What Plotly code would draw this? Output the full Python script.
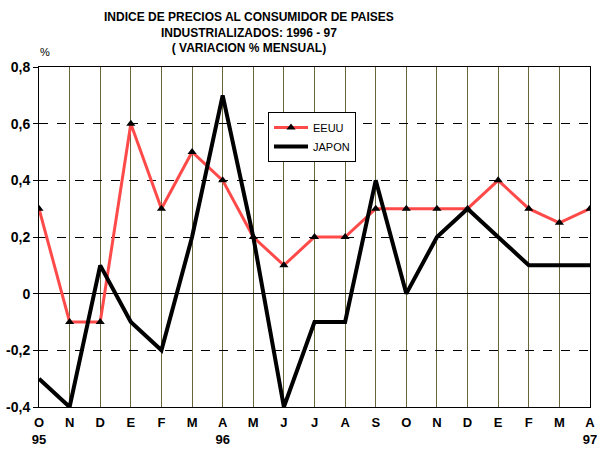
import plotly.graph_objects as go

months = ["O", "N", "D", "E", "F", "M", "A", "M", "J", "J", "A", "S", "O", "N", "D", "E", "F", "M", "A"]
years = {0: "95", 6: "96", 18: "97"}
eeuu = [0.3, -0.1, -0.1, 0.6, 0.3, 0.5, 0.4, 0.2, 0.1, 0.2, 0.2, 0.3, 0.3, 0.3, 0.3, 0.4, 0.3, 0.25, 0.3]
japon = [-0.3, -0.4, 0.1, -0.1, -0.2, 0.2, 0.7, 0.2, -0.4, -0.1, -0.1, 0.4, 0.0, 0.2, 0.3, 0.2, 0.1, 0.1, 0.1]
y_ticks = [0.8, 0.6, 0.4, 0.2, 0.0, -0.2, -0.4]
y_labels = ["0,8", "0,6", "0,4", "0,2", "0", "-0,2", "-0,4"]

x = list(range(len(months)))
x_labels = [m + ("<br>" + years[i] if i in years else "") for i, m in enumerate(months)]

fig = go.Figure()
fig.add_trace(go.Scatter(
    x=x, y=eeuu, name="EEUU", mode="lines+markers",
    line=dict(color="#ff4a4a", width=3),
    marker=dict(symbol="triangle-up", color="black", size=8),
))
fig.add_trace(go.Scatter(
    x=x, y=japon, name="JAPON", mode="lines",
    line=dict(color="black", width=4),
))

font = "Liberation Sans, Arial, sans-serif"
fig.update_layout(
    width=609, height=459,
    margin=dict(l=39, r=19, t=67, b=52, autoexpand=False),
    paper_bgcolor="white", plot_bgcolor="white",
    showlegend=True,
    legend=dict(
        x=(268 - 39) / 551, y=(407 - 112) / 340, xanchor="left", yanchor="top",
        bgcolor="white", bordercolor="black", borderwidth=1,
        font=dict(family=font, size=11, color="black"),
        itemwidth=34, tracegroupgap=2,
    ),
    font=dict(family=font, color="black"),
)
fig.update_xaxes(
    range=[0, 18], tickmode="array", tickvals=x, ticktext=["<b>" + t + "</b>" for t in x_labels],
    showgrid=True, gridcolor="#66663a", gridwidth=1,
    showline=True, linecolor="black", linewidth=1, mirror=True,
    ticks="outside", ticklen=3, tickcolor="rgba(0,0,0,0)",
    tickfont=dict(family=font, size=13, color="black"),
    zeroline=False, automargin=False,
)
fig.update_yaxes(
    range=[-0.4, 0.8], tickmode="array", tickvals=y_ticks, ticktext=["<b>" + t + "</b>" for t in y_labels],
    showgrid=True, gridcolor="black", gridwidth=1, griddash="dash",
    showline=True, linecolor="black", linewidth=1, mirror=True,
    ticks="outside", ticklen=5, tickcolor="black",
    zeroline=True, zerolinecolor="black", zerolinewidth=1,
    tickfont=dict(family=font, size=14, color="black"),
    automargin=False,
)
fig.add_annotation(
    text="<b>INDICE DE PRECIOS AL CONSUMIDOR DE PAISES<br>INDUSTRIALIZADOS: 1996 - 97<br>( VARIACION % MENSUAL)</b>",
    xref="paper", yref="paper", x=(249 - 39) / 551, y=1.0 + (67 - 8) / 340,
    xanchor="center", yanchor="top", showarrow=False,
    font=dict(family=font, size=12, color="black"), align="center",
)
fig.add_annotation(
    text="%", xref="paper", yref="paper", x=(45 - 39) / 551, y=1.0 + (67 - 52) / 340,
    xanchor="center", yanchor="middle", showarrow=False,
    font=dict(family=font, size=11, color="black"),
)
fig.write_html("out.html", config={"displayModeBar": False},
               post_script="document.body.style.margin='0';document.body.style.padding='0';")
